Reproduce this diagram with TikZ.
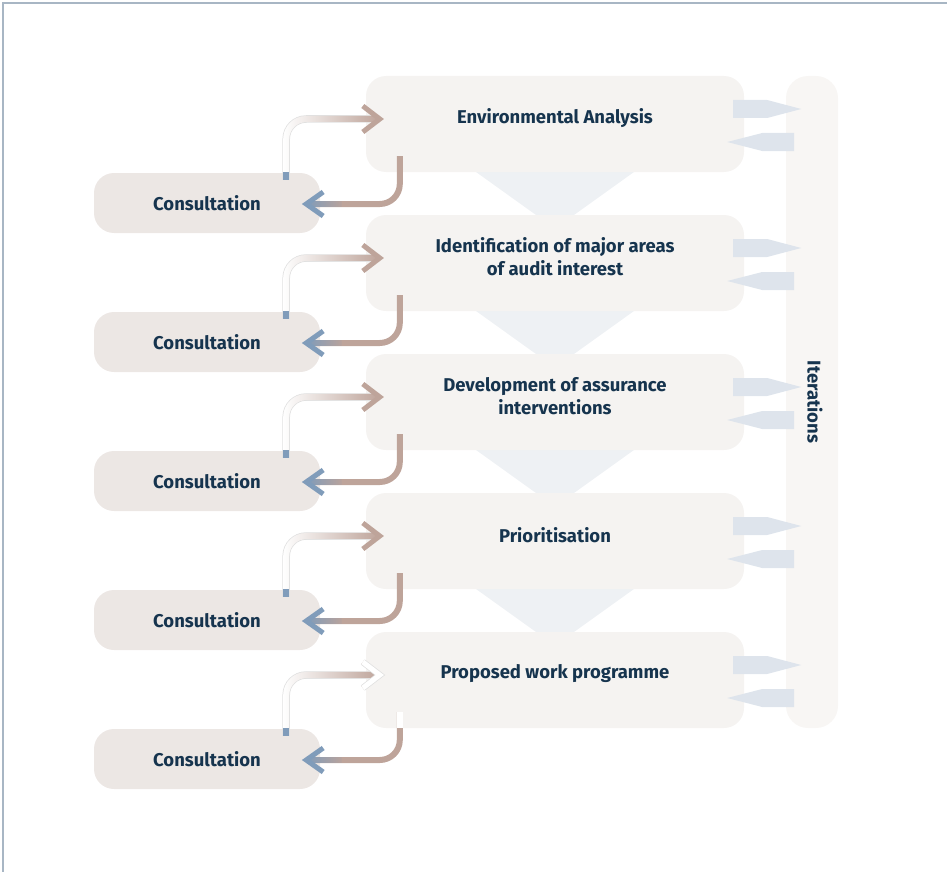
\documentclass[tikz,border=0pt]{standalone}
\usepackage{fontspec}
\setmainfont{Fira Sans}
\usetikzlibrary{calc,fadings}

\definecolor{boxgrey}{RGB}{245,243,241}
\definecolor{consgrey}{RGB}{236,231,228}
\definecolor{bargrey}{RGB}{248,246,244}
\definecolor{funnelblue}{RGB}{238,241,244}
\definecolor{tipblue}{RGB}{222,228,236}
\definecolor{linkbrown}{RGB}{190,164,154}
\definecolor{linkblue}{RGB}{128,156,186}
\definecolor{inkblue}{RGB}{22,52,78}
\definecolor{framegrey}{RGB}{168,182,196}

\tikzfading[name=fadeleft, left color=transparent!100, middle color=transparent!20, right color=transparent!0]
\tikzfading[name=faderight, left color=transparent!0, right color=transparent!100]

\begin{document}
\begin{tikzpicture}[x=1pt,y=-1pt,
  mainbox/.style={fill=boxgrey,rounded corners=20pt,minimum width=378pt,minimum height=96pt},
  consbox/.style={fill=consgrey,rounded corners=20pt,minimum width=226pt,minimum height=60pt,
    font=\fontsize{18.5}{21}\selectfont\bfseries,text=inkblue},
  boxtext/.style={font=\fontsize{18.5}{23}\selectfont\bfseries,text=inkblue,align=center},
  link/.style={line width=6pt,rounded corners=20pt},
  chevron/.style={line width=5pt,linkbrown}]
\useasboundingbox (0,0) rectangle (947,872);
\draw[framegrey,line width=2pt] (3,872) -- (3,3) -- (947,3);

\node[fill=bargrey,rounded corners=22pt,minimum width=652pt,minimum height=52pt,
  boxtext,text depth=6pt,rotate=-90] (iter) at (812,402) {Iterations};

\foreach \y in {172,311,450,589}
  \fill[funnelblue] (476,\y) -- (634,\y) -- (574,\y+43) -- (536,\y+43) -- cycle;

\foreach \n/\y/\txt in {1/124/Environmental Analysis,
    2/263/{Identification of major areas\\of audit interest},
    3/402/{Development of assurance\\interventions},
    4/541/Prioritisation,
    5/680/Proposed work programme}{
  \node[mainbox] (stage\n) at (555,\y) {};
  \node[boxtext,yshift=6pt] (label\n) at (stage\n) {\txt};
  \node[consbox] (cons\n) at (207,\y+79) {Consultation};
  % iteration arrows
  \fill[tipblue] ($(stage\n.east)+(-11,-24)$) -- ++(34,0) -- ++(34,9) -- ++(-34,9) -- ++(-34,0) -- cycle;
  \fill[tipblue] ($(stage\n.east)+(50,9)$) -- ++(-32,0) -- ++(-35,9) -- ++(35,9) -- ++(32,0) -- cycle;
}

\foreach \n in {1,...,5}{
  % consultation up to the stage
  \coordinate (up\n) at ($(cons\n.north east)+(-34,7)$);
  \coordinate (in\n) at ($(stage\n.west)+(14,-5)$);
  \draw[link,black!12,line width=7.5pt] (up\n) |- ($(in\n)+(-3,0)$);
  \draw[link,white] (up\n) |- ($(in\n)+(-3,0)$);
  \draw[link,linkbrown,path fading=fadeleft] (up\n) |- ($(in\n)+(-3,0)$);
  \fill[linkblue] ($(up\n)+(-3,-8)$) rectangle ($(up\n)+(3,0)$);
  \draw[chevron] ($(in\n)+(-17,-13)$) -- (in\n) -- ($(in\n)+(-17,13)$);
  % stage back to the consultation
  \coordinate (down\n) at ($(stage\n.south west)+(34,-16)$);
  \coordinate (out\n) at ($(cons\n.east)+(-14,1)$);
  \draw[link,linkbrown] (down\n) |- ($(out\n)+(3,0)$);
  \draw[link,linkblue,path fading=faderight] ($(out\n)+(3,0)$) -- ($(out\n)+(36,0)$);
  \draw[chevron,linkblue] ($(out\n)+(17,-12)$) -- (out\n) -- ($(out\n)+(17,12)$);
}

% the last stage has pale ends
\draw[chevron,black!12,line width=6.5pt] ($(in5)+(-17,-13)$) -- (in5) -- ($(in5)+(-17,13)$);
\draw[chevron,white] ($(in5)+(-17,-13)$) -- (in5) -- ($(in5)+(-17,13)$);
\draw[link,white] (down5) -- ++(0,16);
\end{tikzpicture}
\end{document}
